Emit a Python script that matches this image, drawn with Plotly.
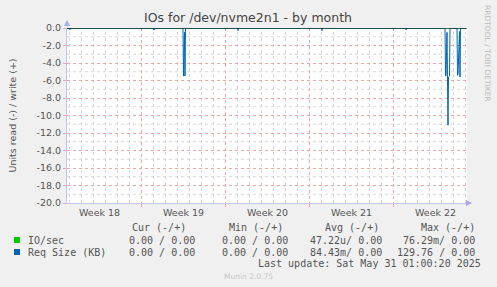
import plotly.graph_objects as go
import pandas as pd

# ---------------- data ----------------
x_start = "2025-04-27 19:00"
x_end = "2025-05-31 03:00"

req_times = [
    "2025-04-27 19:00", "2025-04-28 00:00", "2025-04-28 01:00", "2025-04-28 02:00",
    "2025-05-05 00:00", "2025-05-05 01:00", "2025-05-05 02:00",
    "2025-05-07 11:00", "2025-05-07 12:00", "2025-05-07 14:00", "2025-05-07 15:00", "2025-05-07 16:00",
    "2025-05-12 00:00", "2025-05-12 01:00", "2025-05-12 02:00",
    "2025-05-19 00:00", "2025-05-19 01:00", "2025-05-19 02:00",
    "2025-05-26 00:00", "2025-05-26 01:00", "2025-05-26 02:00",
    "2025-05-29 07:00", "2025-05-29 08:00", "2025-05-29 09:00", "2025-05-29 11:00",
    "2025-05-29 13:00", "2025-05-29 14:00", "2025-05-29 16:00", "2025-05-29 17:00",
    "2025-05-30 07:00", "2025-05-30 08:00", "2025-05-30 09:00", "2025-05-30 12:00",
    "2025-05-30 13:00", "2025-05-30 14:00",
    "2025-05-31 01:00",
]
req_read = [
    0.0, 0.0, -0.2, 0.0,
    0.0, -0.25, 0.0,
    0.0, -5.5, -0.5, -5.5, 0.0,
    0.0, -0.3, 0.0,
    0.0, -0.3, 0.0,
    0.0, -0.2, 0.0,
    0.0, -5.5, -5.4, -0.5,
    -11.1, -5.6, -5.5, 0.0,
    0.0, -5.4, -5.3, -0.4,
    -5.6, 0.0,
    0.0,
]

io_times = ["2025-04-27 19:00", "2025-05-29 13:00", "2025-05-29 15:00", "2025-05-31 01:00"]
io_read = [0.0, -0.076, 0.0, 0.0]

y_tick_values = [0, -2, -4, -6, -8, -10, -12, -14, -16, -18, -20]
y_tick_labels = ["0.0", "-2.0", "-4.0", "-6.0", "-8.0", "-10.0", "-12.0", "-14.0", "-16.0", "-18.0", "-20.0"]
y_minor_values = [-1, -3, -5, -7, -9, -11, -13, -15, -17, -19]

week_bounds = ["2025-05-04", "2025-05-11", "2025-05-18", "2025-05-25"]
week_label_pos = ["2025-04-30 12:00", "2025-05-07 12:00", "2025-05-14 12:00", "2025-05-21 12:00", "2025-05-28 12:00"]
week_labels = ["Week 18", "Week 19", "Week 20", "Week 21", "Week 22"]

series_names = ["IO/sec", "Req Size (KB)"]
series_colors = ["#00CC00", "#0066B3"]
col_headers = ["Cur (-/+)", "Min (-/+)", "Avg (-/+)", "Max (-/+)"]
io_stats = ["0.00 / 0.00", "0.00 / 0.00", "47.22u/ 0.00", "76.29m/ 0.00"]
req_stats = ["0.00 / 0.00", "0.00 / 0.00", "84.43m/ 0.00", "129.76 / 0.00"]
last_update = "Last update: Sat May 31 01:00:20 2025"
title_text = "IOs for /dev/nvme2n1 - by month"

# daily grid positions (midnights) inside the range, excluding week boundaries
day_grid = [d.strftime("%Y-%m-%d") for d in pd.date_range("2025-04-28", "2025-05-31", freq="D")]
day_grid = [d for d in day_grid if d not in week_bounds]

W, H = 497, 287
L, R, T, B = 67, 30, 28, 84
PW, PH = W - L - R, H - T - B


def px(x):
    return (x - L) / PW


def py(y):
    return (H - B - y) / PH


MONO = "DejaVu Sans Mono"
SANS = "DejaVu Sans"
TXT = "#555555"
MGRID = "#E8A8A8"
GRID = "#D6D6D6"
AXIS = "#C4C4F4"

fig = go.Figure()
fig.add_trace(go.Scatter(x=io_times, y=io_read, mode="lines",
                         line=dict(color=series_colors[0], width=1), showlegend=False, hoverinfo="skip"))
fig.add_trace(go.Scatter(x=req_times, y=req_read, mode="lines",
                         line=dict(color=series_colors[1], width=1), showlegend=False, hoverinfo="skip"))

fig.update_layout(
    width=W, height=H,
    margin=dict(l=L, r=R, t=T, b=B),
    paper_bgcolor="#F0F0F0",
    plot_bgcolor="#FFFFFF",
    showlegend=False,
    xaxis=dict(
        type="date", range=[x_start, x_end],
        tickmode="array", tickvals=week_bounds, ticktext=[""] * len(week_bounds),
        ticks="outside", ticklen=3, tickcolor=MGRID,
        showgrid=True, gridcolor=MGRID, griddash="dot", gridwidth=1,
        showline=True, linecolor=AXIS, linewidth=1,
        zeroline=False,
    ),
    yaxis=dict(
        range=[-20, 0], tickmode="array", tickvals=y_tick_values, ticktext=y_tick_labels,
        tickfont=dict(family=SANS, size=9.5, color=TXT),
        ticks="outside", ticklen=3, tickcolor=MGRID,
        showgrid=True, gridcolor=MGRID, griddash="dot", gridwidth=1,
        showline=True, linecolor=AXIS, linewidth=1,
        zeroline=False,
    ),
)

shapes = []
# minor grid (daily / every 1 unit)
for d in day_grid:
    shapes.append(dict(type="line", xref="x", yref="paper", x0=d, x1=d, y0=0, y1=1,
                       line=dict(color=GRID, width=1, dash="dot"), layer="below"))
for v in y_minor_values:
    shapes.append(dict(type="line", xref="paper", yref="y", x0=0, x1=1, y0=v, y1=v,
                       line=dict(color=GRID, width=1, dash="dot"), layer="below"))
shapes.append(dict(type="line", xref="paper", yref="y", x0=0, x1=1, y0=0, y1=0,
                   line=dict(color="#000000", width=1), layer="above"))
for i, c in enumerate(series_colors):
    yc = 240 + 12 * i
    shapes.append(dict(type="rect", xref="paper", yref="paper",
                       x0=px(14), x1=px(20), y0=py(yc + 3), y1=py(yc - 3),
                       fillcolor=c, line=dict(width=0)))
fig.update_layout(shapes=shapes)

ann = []
for pos, lab in zip(week_label_pos, week_labels):
    ann.append(dict(text=lab, xref="x", yref="paper", x=pos, y=py(212),
                    xanchor="center", yanchor="middle", showarrow=False,
                    font=dict(family=SANS, size=9.5, color=TXT)))
ann.append(dict(text=title_text, xref="paper", yref="paper", x=px(248), y=py(18),
                xanchor="center", yanchor="middle", showarrow=False,
                font=dict(family=SANS, size=12.5, color="#444444")))
ann.append(dict(text="Units read (-) / write (+)", xref="paper", yref="paper", x=px(12), y=py(115.5),
                xanchor="center", yanchor="middle", textangle=-90, showarrow=False,
                font=dict(family=SANS, size=9.5, color=TXT)))
ann.append(dict(text="RRDTOOL / TOBI OETIKER", xref="paper", yref="paper", x=px(488), y=py(53),
                xanchor="center", yanchor="middle", textangle=90, showarrow=False,
                font=dict(family=SANS, size=7.5, color="#BBBBBB")))
ann.append(dict(text="", xref="paper", yref="paper", x=0, y=py(20), ax=0, ay=8,
                showarrow=True, arrowhead=2, arrowsize=1.2, arrowwidth=1, arrowcolor="#A8A8EE"))
ann.append(dict(text="", xref="paper", yref="paper", x=px(472), y=0, ax=-8, ay=0,
                showarrow=True, arrowhead=2, arrowsize=1.2, arrowwidth=1, arrowcolor="#A8A8EE"))

hdr_right = [188, 285, 381, 477]
val_right = [197, 289.5, 384, 477]
for h, xr in zip(col_headers, hdr_right):
    ann.append(dict(text=h, xref="paper", yref="paper", x=px(xr), y=py(227.5),
                    xanchor="right", yanchor="middle", showarrow=False,
                    font=dict(family=MONO, size=10, color=TXT)))
for i, (name, stats) in enumerate(zip(series_names, [io_stats, req_stats])):
    yy = 240 + 12 * i
    ann.append(dict(text=name, xref="paper", yref="paper", x=px(26), y=py(yy),
                    xanchor="left", yanchor="middle", showarrow=False,
                    font=dict(family=MONO, size=10, color=TXT)))
    for s, xr in zip(stats, val_right):
        ann.append(dict(text=s, xref="paper", yref="paper", x=px(xr), y=py(yy),
                        xanchor="right", yanchor="middle", showarrow=False,
                        font=dict(family=MONO, size=10, color=TXT)))
ann.append(dict(text=last_update, xref="paper", yref="paper", x=px(482.5), y=py(263.5),
                xanchor="right", yanchor="middle", showarrow=False,
                font=dict(family=MONO, size=10, color=TXT)))
ann.append(dict(text="Munin 2.0.75", xref="paper", yref="paper", x=px(248), y=py(276),
                xanchor="center", yanchor="middle", showarrow=False,
                font=dict(family=SANS, size=7.5, color="#C8C8C8")))
fig.update_layout(annotations=ann)

fig.write_html("out.html")
